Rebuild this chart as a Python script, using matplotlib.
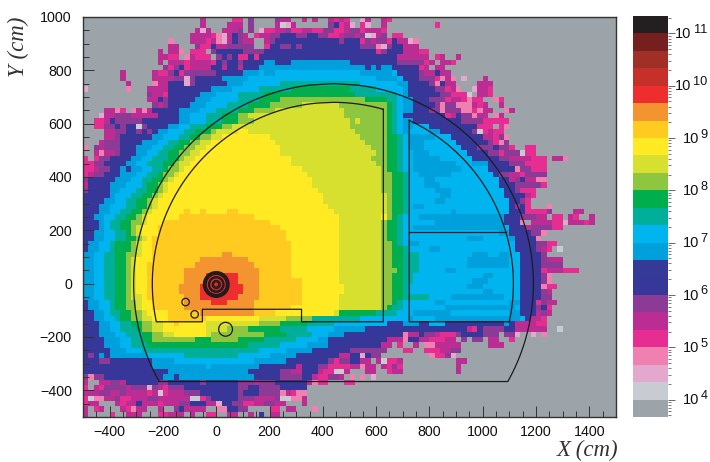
import re

import numpy as np
import matplotlib
matplotlib.use('Agg')
import matplotlib.pyplot as plt
from matplotlib.colors import BoundaryNorm, ListedColormap
from matplotlib.patches import Circle
from matplotlib.ticker import FixedLocator, LogLocator, NullFormatter

plt.rcParams['font.family'] = ['Liberation Sans', 'DejaVu Sans']
plt.rcParams['axes.unicode_minus'] = True

# palette, lowest bin first, one letter per bin in LEVEL_CODES
LEVEL_CODES = '.lpqhmudDbctgGYyoOrRBKX'
COLOURS = ['#9CA3A9', '#C8CCD2', '#E2A8CE', '#F080B0', '#E62E92', '#BB2D92', '#8B3A96',
           '#37379A', '#363A97', '#00A0DC', '#00B4EF', '#00AF9A', '#00AE4D', '#8EC63F',
           '#D7DF2F', '#FFEA24', '#FFCB20', '#F39431', '#EE2E2E', '#C5302B', '#A03026',
           '#751F1F', '#231F20']

LOG_LOW = 4 - 1 / 3     # bottom of the lowest colour bin
BINS_PER_DECADE = 3
X_LOW, Y_HIGH, CELL = -500, 1000, 20

# one string per row of cells from y=1000 down, code + end column (exclusive)
FLUX_RUNS = [
    ".22 m23 .28 h30 .31 u32 .36 u37 m39 .41 m42 .43 m44 .46 m47 h48 m49 h50 .52 p53 m54 .56 m57 h58",
    ".22 m23 .27 m30 .31 u32 .36 m37 l38 p39 m40 .46 u47 d48 h49 m50 p51 .52 h53 p54 .56 m57 .66 h67",
    ".21 m22 p23 m24 .26 m29 u30 .31 u32 .33 p34 h36 m38 u39 h41 m43 h45 u47 h49 m50 u52 h53 m56 h57",
    ".20 m24 h25 q26 p27 m28 d29 u30 m31 .32 h33 m35 u37 d40 u42 d44 u46 h48 m49 u51 m52 u53 l54 p55 m56 u57 .58 h60",
    ".16 q17 .20 m23 h24 m25 q26 p27 m28 d29 u30 m32 .34 m35 u36 d48 u49 d52 h53 u54 m55 u57 h58 d59 m61 p62 q63",
    ".16 m18 .21 u22 h24 d25 m27 u32 .34 h35 d37 u39 d40 u41 d52 u55 q56 p57 u58 d60 m63",
    ".14 m15 .16 m18 q19 .20 h23 .24 u25 d30 u34 d55 h56 u57 d60 m63 h65",
    ".14 m16 h18 .19 q20 m21 h24 .25 u26 d27 u28 d29 h31 d32 h33 d59 m65 .66 h67 m68 .70 m71",
    ".14 m15 .16 m19 h20 m24 h25 d26 u27 d29 u30 d34 b36 d39 b50 d59 u64 h65 m66 .67 m69 h70",
    ".15 u16 h17 u18 d19 h20 m24 d26 m27 d29 m30 d33 b53 d54 b55 d56 b58 d63 h64 m65 .66 m68",
    ".7 m8 .13 m14 h16 u17 d18 h19 u25 d30 b33 c34 b36 c52 b58 c59 d63 u64 m66 d67 m69",
    ".7 m8 .13 m17 u19 p20 u21 d26 b31 c55 b59 c60 d63 u66 h67 q68 m69 q70 .71 p72 .75 m76",
    ".8 m9 .13 q14 m16 d19 p20 u21 d27 b30 c37 t52 c59 b61 d65 u66 q67 d68 m70 .74 m77",
    "p1 .8 q9 .12 m16 d24 b28 c33 t39 g50 t55 c60 b61 d66 u68 h69 m70 q71 .73 p74 m76 h77",
    ".12 u13 m15 h16 d22 b25 c29 t34 g51 t59 c60 b61 d67 u69 h72 l73 .74 m76 h77",
    ".12 m14 d15 u16 d21 b24 c29 t33 g37 G53 g57 t59 c60 b62 d65 u68 h69 m71 h72 q73 h75 .77 q78 h79",
    ".13 u14 m15 u16 d20 b23 c27 t31 g35 G41 Y48 G57 g58 t59 c60 b62 d66 u67 q68 u70 q73 m74 h75 m76 .78 m79",
    ".4 m6 q7 h8 .9 q10 m11 q12 m13 d18 b22 c25 t29 g32 G36 Y49 G57 g58 t59 c60 b62 d65 u67 q68 u71 q73 h74 q75 m77 .79 q80 m81",
    ".3 p4 m6 u9 m14 d18 b20 c23 t26 g29 G31 Y49 G57 g58 t59 c60 d68 h69 m70 d71 u73 q74 m76 .77 q78 m79",
    ".2 h4 m5 d6 u11 d18 b20 c23 t26 g29 G32 Y50 G51 Y52 G57 g58 t59 c60 b62 d71 u75 h80",
    ".2 h4 u6 d7 u8 d10 l11 u12 d16 b18 c20 t23 g26 G28 Y50 G57 g58 t59 c60 b62 c65 d74 h77 .78 h79 q80",
    ".4 m6 u8 d10 u11 d12 u13 d14 b16 c19 t21 g24 G25 Y29 y31 Y51 G57 g58 t59 c60 b61 c65 b67 d73 u74 l75 h76 m77 h79",
    ".4 m6 u7 d13 b15 c18 t20 g22 G24 Y26 y35 Y52 G57 g59 t60 c61 b66 c69 d75 m77 h78 u79 q80",
    ".3 m4 u7 d11 b14 c16 t18 g20 G22 Y24 y36 Y53 G57 g59 t60 c61 b64 c70 d76 u77 h78 q79 u80",
    "q1 .2 u3 m4 u7 d10 b13 c15 t17 g19 G21 Y23 y37 Y54 G57 g59 t60 c61 b64 c71 d74 u77 d78 u80 h81 .83 h85",
    ".2 m3 q4 m6 u7 d10 b12 c14 t16 g18 G20 Y22 y37 Y55 G57 g59 t60 c62 b65 c72 d76 u78 h79 u82 l83 h85",
    "h1 .2 h3 u5 d9 b11 c13 t16 g18 G19 Y21 y39 Y54 G57 g59 t60 c62 b67 c73 d78 u80 m84 h87 .88 m90 q91",
    "h2 u4 d8 b10 c12 t15 g17 G18 Y20 y39 Y55 G57 g59 t60 c62 b70 c73 b76 d80 u83 h87",
    "h2 m3 u5 d7 b8 d9 b11 c13 t15 g16 G18 Y19 y41 Y56 G57 g59 t60 c62 b71 c76 d81 q82 u84 h87",
    "h1 m2 u4 d7 b10 c12 t14 g15 G17 Y18 y42 Y56 G58 g60 t61 c63 b69 c77 d78 u80 m82 h83 u87",
    "u1 d6 b9 c11 t13 g15 G16 Y17 y43 Y56 G58 g60 t61 c64 b66 c78 d80 m81 u82 d83 m85 q87",
    "m1 d5 b8 c11 t12 g14 G15 Y16 y43 Y56 G58 g60 t61 c64 b67 c78 d81 u86 h87",
    "u1 d5 b7 c10 t12 g14 G15 Y16 y44 Y56 G58 g60 t61 c66 b69 c79 d81 u82 h85",
    "d5 b6 c9 t11 g13 G14 Y15 y45 Y57 G58 g60 t61 c67 b69 c79 d83 m84 h85",
    "d4 b6 c8 t10 g12 G13 Y14 y45 Y57 G58 g60 t61 c66 b68 c80 d82 u83 h84",
    "d3 b5 c8 t10 g12 G13 Y14 y46 Y57 G58 g60 t61 c62 b64 c80 d81 u82 d83 h84 .87 q88",
    "d3 b5 c7 t9 g11 G12 Y13 y19 o20 y22 o23 y27 o29 y47 Y57 G58 g60 t61 c69 b70 c80 d83 h87 u88 .92 m94",
    "d2 b4 c6 t8 g10 G11 Y12 y18 o32 y48 Y56 y57 G58 g59 t60 c63 b79 d82 u85 m87 .88 h90 .91 m92 h93 .95 m96",
    "d3 b4 c5 t7 g9 G11 Y12 y15 o35 y48 Y56 G57 g59 t60 c66 b79 d82 q83 .84 m88 h90 p91 m94 h95 m96",
    "d3 b4 c5 t7 g9 G10 Y11 y14 o37 y48 Y56 G57 g59 t60 c62 b79 c80 d83 m84 u88 h90",
    "d2 b4 c6 t8 g9 G10 Y11 y14 o38 y48 Y56 G57 g59 t60 c78 b80 d84 u86 q87",
    "d2 b4 c6 t8 g10 G11 Y12 y13 o38 y48 Y56 G57 g59 t60 c72 b75 c80 b81 d85 q86",
    "d1 b3 c5 t6 g9 G10 Y11 y13 o39 y48 Y56 G58 g59 t60 c61 b63 c81 d85 u87 h89",
    "d1 b3 c5 t6 g9 G10 Y11 y13 o39 y48 Y56 G58 g60 t61 c65 b67 c81 d85 u86 m87 h88 .89 l90",
    "b2 c4 t6 g8 G10 Y11 y13 o26 O28 o39 y48 Y56 G58 g60 t63 c73 b76 c78 b80 c82 d86 u87",
    "b2 c4 t6 g8 G9 Y10 y13 o22 O31 o39 y48 Y56 G58 g60 t63 c72 b80 c82 d86 u87 m90",
    "b2 c4 t6 g8 G9 Y10 y12 o21 O32 o39 y48 Y56 G58 g60 t63 c72 b80 c82 d86 u90",
    "b2 c4 t6 g8 G9 Y10 y12 o19 O33 o39 y48 Y56 G59 g60 t63 c68 b70 c82 d86 h87 m90 h93",
    "b2 c4 t6 g8 G9 Y10 y12 o19 O23 r29 O33 o39 y48 Y56 G58 g60 t62 c75 b77 c82 d86 u87 q88",
    "b2 c4 t6 g8 G9 Y10 y12 o19 O23 r29 O33 o41 y48 Y56 G58 g60 t62 c73 b76 c82 d86 u87 q88",
    "b2 c4 t6 g8 G9 Y10 y12 o18 O22 r25 R26 r30 O33 o41 y49 Y56 G58 g60 t61 c72 b75 c82 d86 q87 h89",
    "b2 c4 t6 g8 G9 Y10 y12 o18 O22 r24 R27 r30 O33 o41 y49 Y56 G58 g60 t61 c75 b77 c82 d86 u87 m88",
    "b2 c4 t6 g8 G9 Y11 y12 o19 O22 r29 O33 o41 y48 Y56 G58 g60 t65 c69 b79 c82 d86 u88",
    "d1 b3 c5 t6 g8 G10 Y11 y13 o19 O24 r27 O32 o41 y48 Y56 G58 g59 t60 c66 b68 c80 b82 d85 h86 u87 m89",
    "d1 b3 c5 t6 g8 G10 Y11 y13 o19 O32 o39 y48 Y56 G57 g58 t60 c68 b81 c82 d85 u86 d87 h88",
    "d2 b4 c5 t7 g9 G11 Y12 y16 o22 O32 o36 y47 Y48 g55 t59 c62 b69 c80 b82 d85 m86 u87 m88",
    "d2 b4 c6 t7 g9 G11 Y13 y16 o23 y33 Y38 G43 t52 c61 b62 c66 b82 c83 d84 m86 h87",
    "d3 b5 c7 t9 g11 G13 Y15 y17 o18 y23 Y33 G37 g42 t47 c57 d60 b63 d65 c68 d79 b80 d81 m85 h87",
    "d3 b5 c7 t10 g11 G13 Y15 y23 Y27 G31 g37 t42 c47 b53 d72 m73 h74 d75 u79 d81 m87 .89 l90",
    "d3 b6 c8 t11 g13 G15 Y17 y23 Y24 G34 g38 t43 c46 b49 d60 q61 m63 d64 u66 m67 h70 u71 d75 u76 .76 u78 .79 u81 p82 .84 p85 .86 q87",
    "d4 b7 c9 t11 g13 G21 g24 G29 g34 t40 c44 b46 d57 m60 q61 d63 m65 h68 m70 .71 u72 .73 u75 .76 m78 .80 h81",
    "d4 b7 c9 t12 g31 t37 c42 b46 d56 m58 .59 h60 .62 m63 .64 q66 m71 .76 m79",
    "d5 b8 c11 t14 t33 c38 b43 d50 u57 .60 h62 .64 h67 m69 u71",
    "d1 u2 d3 b4 d5 b12 c19 t29 c35 b40 d48 m50 d52 p53 d54 u56 .65 q66 h68 u69 .69 p70",
    "d3 u5 d13 b17 c32 b38 d46 u47 h48 u50 d52 m54 .55 m56 l57 h59 m60 .70 m72",
    "d13 b23 c24 b33 d40 m41 d44 u46 h50 m52 q53 m55 .56 m57 h58 u59 h60 .70 m71",
    "d16 b31 d37 u39 m41 d44 m45 h47 l49 m50 .53 m55 .57 h58 m60 .70 m71",
    "u1 q2 u4 d15 b17 d18 b32 d37 u41 d43 m44 h46 u48 m49 .50 q51 .52 q53 .54 p55",
    "m1 .3 m5 u7 m8 d14 u16 d22 u23 d29 u32 m33 u36 d42 m43 q44 h46 .49 h51",
    "h1 .2 m3 h4 u8 m9 u12 p13 u14 m15 h16 u19 d29 u31 d33 u37 d42",
    "m3 u5 m7 u8 m12 h13 m14 l15 h16 m19 u22 d29 u30 d33 u37 q38 m39 h40 q42",
    "h1 l2 q4 m6 u7 h9 m12 u14 m20 l22 h23 u24 d29 u32 m36 u37 l39 q41 m42",
    "h1 m3 .6 m7 h8 m10 d11 m14 h15 m18 u20 d23 m25 p26 d28 u30 h32 m34 u36 m38 .41 m42",
    "m1 .2 h3 m4 .7 m8 h9 q10 m12 .14 m15 .17 u18 d19 m23 .25 q27 d29 u31 .35 h37 .38 m40 .43 q44 .46",
    "m1 .5 h6 .8 m9 .9 m11 .14 h16 m19 .20 m21 .23 h25 .27 m29 .31 m32 .33 d34 .35 m37",
]

# detector outline (cm)
ARC_CENTRE = 440
OUTER_RADIUS, INNER_RADIUS, DOWNSTREAM_RADIUS = 750, 680, 675
FLOOR_Y, INNER_FLOOR_Y, STEP_Y = -367, -143, -96
STEP_X = [-52, 320]
WALL_X, ROOM_X, SPLIT_Y = 627, 724, 194
SMALL_RINGS = [(-115, -69, 14), (-81, -115, 14), (35, -171, 26)]
CORE_RADII = [48, 45, 42, 38, 29, 25, 15, 10]
CORE_Y = -3

X_TICKS = [-400, -200, 0, 200, 400, 600, 800, 1000, 1200, 1400]
Y_TICKS = [-400, -200, 0, 200, 400, 600, 800, 1000]
BAR_DECADES = [4, 5, 6, 7, 8, 9, 10, 11]


def parse_row(text):
    row = np.zeros(100)
    start = 0
    for code, end in re.findall(r'(\D)(\d+)', text.replace(' ', '')):
        row[start:int(end)] = LEVEL_CODES.index(code)
        start = max(start, int(end))
    return row


def arc_x(radius, y, side):
    return ARC_CENTRE + side * np.sqrt(radius ** 2 - y ** 2)


levels = np.array([parse_row(r) for r in FLUX_RUNS])
flux = 10 ** (LOG_LOW + (levels + 0.5) / BINS_PER_DECADE)
edges = 10 ** (LOG_LOW + np.arange(len(COLOURS) + 1) / BINS_PER_DECADE)
cmap = ListedColormap(COLOURS)
norm = BoundaryNorm(edges, len(COLOURS))

W, H = 710, 462
fig = plt.figure(figsize=(W / 100, H / 100), dpi=100)
ax = fig.add_axes([83 / W, 1 - 417 / H, 533 / W, 400 / H])

xedges = X_LOW + CELL * np.arange(levels.shape[1] + 1)
yedges = Y_HIGH - CELL * np.arange(levels.shape[0] + 1)
ax.pcolormesh(xedges, yedges, flux, cmap=cmap, norm=norm)
ax.set_xlim(-500, 1500)
ax.set_ylim(-500, 1000)

LINE = dict(color='#1c1c1c', lw=0.9)

# outer shell
ys = np.linspace(FLOOR_Y, OUTER_RADIUS, 200)
xs = np.r_[arc_x(OUTER_RADIUS, ys, -1), arc_x(OUTER_RADIUS, ys[::-1], 1)]
ax.plot(np.r_[xs, xs[0]], np.r_[ys, ys[::-1], ys[0]], **LINE)

# left hall with the step in its floor
wall_top = np.sqrt(INNER_RADIUS ** 2 - (WALL_X - ARC_CENTRE) ** 2)
ys_left = np.linspace(INNER_FLOOR_Y, INNER_RADIUS, 300)
ys_top = np.linspace(INNER_RADIUS, wall_top, 60)
hall_x = np.r_[arc_x(INNER_RADIUS, ys_top[::-1], 1), arc_x(INNER_RADIUS, ys_left[::-1], -1),
               STEP_X[0], STEP_X[0], STEP_X[1], STEP_X[1], WALL_X, WALL_X]
hall_y = np.r_[ys_top[::-1], ys_left[::-1], INNER_FLOOR_Y, STEP_Y, STEP_Y, INNER_FLOOR_Y, INNER_FLOOR_Y, wall_top]
ax.plot(hall_x, hall_y, **LINE)

# right hall
room_top = np.sqrt(DOWNSTREAM_RADIUS ** 2 - (ROOM_X - ARC_CENTRE) ** 2)
ys = np.linspace(room_top, INNER_FLOOR_Y, 200)
room_x = np.r_[ROOM_X, arc_x(DOWNSTREAM_RADIUS, ys, 1), ROOM_X, ROOM_X]
room_y = np.r_[room_top, ys, INNER_FLOOR_Y, room_top]
ax.plot(room_x, room_y, **LINE)
ax.plot([ROOM_X, arc_x(DOWNSTREAM_RADIUS, SPLIT_Y, 1)], [SPLIT_Y, SPLIT_Y], **LINE)

for cx, cy, r in SMALL_RINGS:
    ax.add_patch(Circle((cx, cy), r, fill=False, ec='#1c1c1c', lw=0.9))
for r in CORE_RADII:
    ax.add_patch(Circle((0, CORE_Y), r, fill=False, ec='#1c1c1c', lw=1.0))

for s in ax.spines.values():
    s.set_color('#333333')
    s.set_linewidth(1.0)
ax.set_xticks(X_TICKS)
ax.set_yticks(Y_TICKS)
ax.xaxis.set_minor_locator(FixedLocator(np.arange(-500, 1501, 50)))
ax.yaxis.set_minor_locator(FixedLocator(np.arange(-500, 1001, 50)))
ax.tick_params(which='major', direction='in', length=8, width=0.7, color='#333333',
               labelsize=10.3, labelcolor='#111111')
ax.tick_params(which='minor', direction='in', length=4, width=0.7, color='#333333')
ax.tick_params(axis='x', which='major', pad=6)
ax.tick_params(axis='y', which='major', pad=8)

SERIF = ['Liberation Serif', 'DejaVu Serif']
fig.text(618 / W, 1 - 456 / H, 'X (cm)', ha='right', va='baseline', style='italic',
         family=SERIF, fontsize=16.5, color='#333333')
fig.text(29 / W, 1 - 17 / H, 'Y (cm)', ha='right', va='top', rotation=90, style='italic',
         family=SERIF, fontsize=16.5, color='#333333')

# colour bar with its own log axis
cax = fig.add_axes([633 / W, 1 - 417 / H, 35 / W, 401 / H])
bar_vals = 10 ** (LOG_LOW + (np.arange(len(COLOURS)) + 0.5) / BINS_PER_DECADE)
cax.pcolormesh([0, 1], edges, bar_vals[:, None], cmap=cmap, norm=norm)
cax.set_yscale('log')
cax.set_ylim(edges[0], edges[-1])
cax.set_xticks([])
for s in cax.spines.values():
    s.set_visible(False)
cax.yaxis.tick_right()
cax.set_yticks([10.0 ** d for d in BAR_DECADES])
cax.set_yticklabels([])
cax.yaxis.set_minor_locator(LogLocator(base=10, subs=np.arange(2, 10), numticks=20))
cax.yaxis.set_minor_formatter(NullFormatter())
cax.tick_params(axis='y', which='major', direction='out', length=5, width=0.7, color='#666666')
cax.tick_params(axis='y', which='minor', direction='out', length=2.2, width=0.6, color='#666666')

# exponent sits high and large, as two texts; offsets in points from the bar edge
for d in BAR_DECADES:
    exp = str(d)
    exp_w = 5.3 * len(exp)
    cax.annotate(exp, xy=(1, 10.0 ** d), xycoords=('axes fraction', 'data'), xytext=(28.5, 2.5),
                 textcoords='offset points', ha='right', va='center', fontsize=9.2, color='#111111')
    cax.annotate('10', xy=(1, 10.0 ** d), xycoords=('axes fraction', 'data'),
                 xytext=(28.5 - exp_w - 1, -0.5), textcoords='offset points', ha='right', va='center',
                 fontsize=10.5, color='#111111')

fig.savefig('out.png', dpi=100)
